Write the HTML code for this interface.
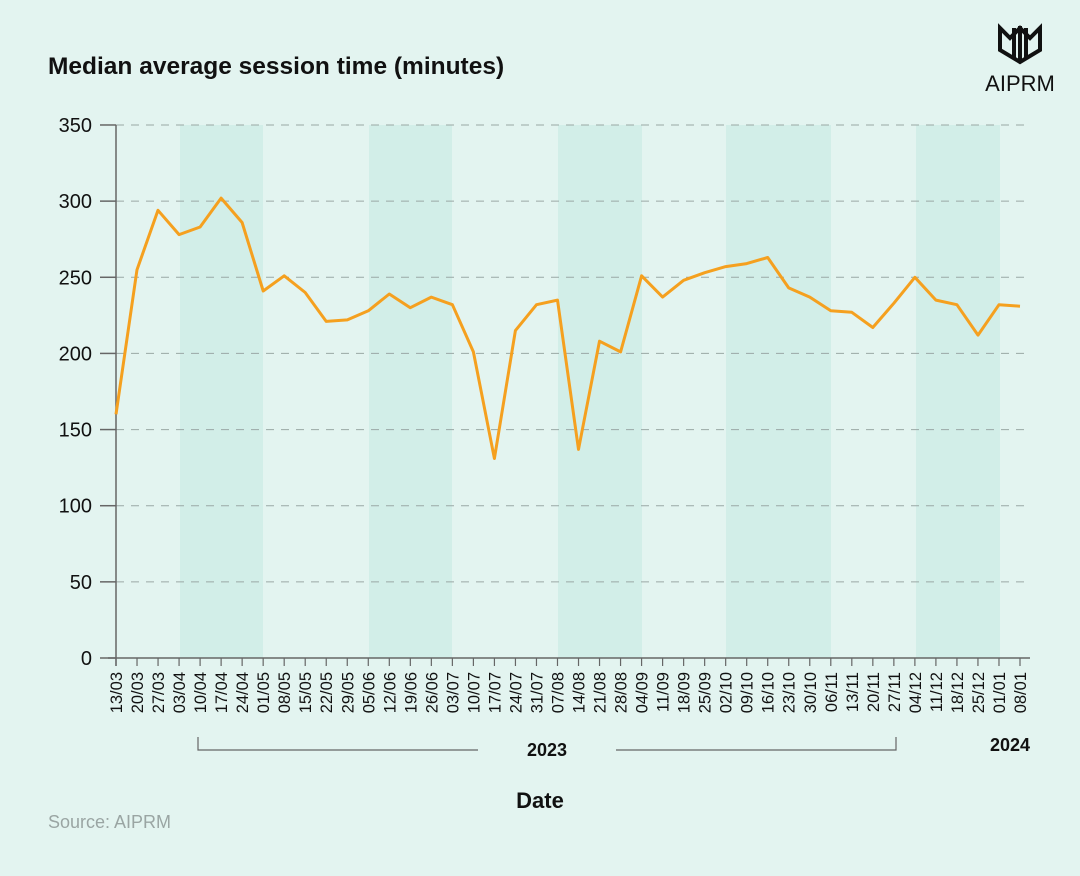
<!DOCTYPE html>
<html><head><meta charset="utf-8"><style>
body{margin:0;background:#e3f4f0;}
svg{display:block;font-family:"Liberation Sans",sans-serif;}
</style></head><body>
<svg id="s" width="1080" height="876" viewBox="0 0 1080 876" xmlns="http://www.w3.org/2000/svg">
<rect width="1080" height="876" fill="#e3f4f0"/>
<g fill="#d2eee8">
<rect x="180" y="125" width="83" height="533"/>
<rect x="369" y="125" width="83" height="533"/>
<rect x="558" y="125" width="84" height="533"/>
<rect x="726" y="125" width="105" height="533"/>
<rect x="916" y="125" width="84" height="533"/>
</g>
<text x="48" y="74" font-size="24.5" font-weight="bold" fill="#111">Median average session time (minutes)</text>
<g fill="#111">
<path d="M1010 38 L1020 28 L1030 38 L1040 28 L1040 50 L1020 62 L1000 50 L1000 28 Z" fill="none" stroke="#111" stroke-width="4"/>
<rect x="1012" y="28" width="4" height="30"/><rect x="1018" y="26" width="4" height="34"/><rect x="1024" y="28" width="4" height="30"/>
</g>
<text x="1020" y="91" font-size="22" text-anchor="middle" fill="#111">AIPRM</text>
<g id="grid"></g>
<line x1="116" y1="125" x2="116" y2="666" stroke="#666" stroke-width="1.5"/>
<line x1="108" y1="658" x2="1030" y2="658" stroke="#666" stroke-width="1.5"/>
<g id="xt"></g>
<polyline id="ln" fill="none" stroke="#f5a01f" stroke-width="3" stroke-linejoin="round"/>
<path d="M198 737 V750 H478 M616 750 H896 V737" fill="none" stroke="#666" stroke-width="1.2"/>
<text x="547" y="756" font-size="18" font-weight="bold" text-anchor="middle" fill="#111">2023</text>
<text x="1010" y="751" font-size="18" font-weight="bold" text-anchor="middle" fill="#111">2024</text>
<text x="540" y="808" font-size="22" font-weight="bold" text-anchor="middle" fill="#111">Date</text>
<text x="48" y="828" font-size="18" fill="#9aa5a3">Source: AIPRM</text>
</svg>
<script>
var ns="http://www.w3.org/2000/svg";
function el(t,a,p,txt){var e=document.createElementNS(ns,t);for(var k in a)e.setAttribute(k,a[k]);if(txt!=null)e.textContent=txt;p.appendChild(e);return e;}
var g=document.getElementById("grid");
for(var v=0;v<=350;v+=50){var y=658-v*1.5229;
if(v>0)el("line",{x1:116,y1:y,x2:1030,y2:y,stroke:"#9aa8a5","stroke-width":1,"stroke-dasharray":"8,7"},g);
el("line",{x1:100,y1:y,x2:116,y2:y,stroke:"#666","stroke-width":1.5},g);
el("text",{x:92,y:y+7,"font-size":20,"text-anchor":"end",fill:"#111"},g,String(v));}
var labels="13/03 20/03 27/03 03/04 10/04 17/04 24/04 01/05 08/05 15/05 22/05 29/05 05/06 12/06 19/06 26/06 03/07 10/07 17/07 24/07 31/07 07/08 14/08 21/08 28/08 04/09 11/09 18/09 25/09 02/10 09/10 16/10 23/10 30/10 06/11 13/11 20/11 27/11 04/12 11/12 18/12 25/12 01/01 08/01".split(" ");
var vals=[160,255,294,278,283,302,286,241,251,240,221,222,228,239,230,237,232,201,131,215,232,235,137,208,201,251,237,248,253,257,259,263,243,237,228,227,217,233,250,235,232,212,232,231];
var xt=document.getElementById("xt"),pts=[];
for(var i=0;i<44;i++){var x=116+i*(904/43);
el("line",{x1:x,y1:658,x2:x,y2:666,stroke:"#666","stroke-width":1.2},xt);
el("text",{x:0,y:0,"font-size":16.5,"text-anchor":"end",fill:"#111",transform:"translate("+(x+6)+",672) rotate(-90)"},xt,labels[i]);
pts.push(x.toFixed(1)+","+(658-vals[i]*1.5229).toFixed(1));}
document.getElementById("ln").setAttribute("points",pts.join(" "));
</script>
</body></html>
